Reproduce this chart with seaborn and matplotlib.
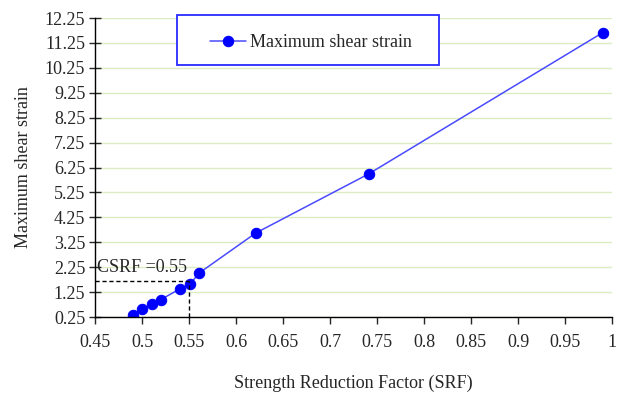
import matplotlib
matplotlib.use("Agg")
import matplotlib.pyplot as plt
from matplotlib.patches import Rectangle
import seaborn as sns
import pandas as pd

srf = [0.49, 0.50, 0.511, 0.52, 0.54, 0.551, 0.561, 0.621, 0.741, 0.99]
strain = [0.35, 0.57, 0.76, 0.95, 1.37, 1.57, 2.02, 3.62, 5.99, 11.66]
yticks = [0.25, 1.25, 2.25, 3.25, 4.25, 5.25, 6.25, 7.25, 8.25, 9.25, 10.25, 11.25, 12.25]
xticks = [0.45, 0.5, 0.55, 0.6, 0.65, 0.7, 0.75, 0.8, 0.85, 0.9, 0.95, 1.0]
xtick_labels = ["0.45", "0.5", "0.55", "0.6", "0.65", "0.7", "0.75", "0.8", "0.85", "0.9", "0.95", "1"]
csrf = 0.55
csrf_strain = 1.68

df = pd.DataFrame({"SRF": srf, "strain": strain})

sns.set_style("white")
plt.rcParams["font.family"] = ["Liberation Serif", "DejaVu Serif"]

fig = plt.figure(figsize=(6.23, 3.94), dpi=100)
ax = fig.add_axes([95 / 623, 1 - 317 / 394, 517 / 623, 299 / 394])

sns.lineplot(data=df, x="SRF", y="strain", ax=ax, color="#0000ff", lw=1.1,
             marker="o", markersize=7.5, markeredgecolor="#0000ff",
             label="Maximum shear strain")
for l in ax.lines:
    l.set_color("#4a4aff")
    l.set_markerfacecolor("#0000ff")
    l.set_markeredgecolor("#0000ff")

ax.plot([0.45, csrf], [csrf_strain, csrf_strain], ls=(0, (3, 2)), color="black", lw=1.0)
ax.plot([csrf, csrf], [0.25, csrf_strain], ls=(0, (3, 2)), color="black", lw=1.0)
ax.text(0.4525, csrf_strain + 0.2, "CSRF =0.55", fontsize=13, va="bottom", ha="left")

ax.set_xlim(0.45, 1.0)
ax.set_ylim(0.25, 12.25)
ax.set_xticks(xticks)
ax.set_xticklabels(xtick_labels)
ax.set_yticks(yticks)
ax.set_yticklabels([f"{v:.2f}" for v in yticks])
ax.yaxis.grid(True, color="#dcedc4", lw=1.0)
ax.xaxis.grid(False)
ax.set_axisbelow(True)
for s in ["top", "right"]:
    ax.spines[s].set_visible(False)
for s in ["left", "bottom"]:
    ax.spines[s].set_color("black")
    ax.spines[s].set_linewidth(1.0)
ax.tick_params(axis="x", direction="out", length=5, width=1, labelsize=13, pad=7, bottom=True)
ax.tick_params(axis="y", direction="inout", length=8, width=1, labelsize=13, pad=3, left=True)
ax.set_xlabel("Strength Reduction Factor (SRF)", fontsize=13, labelpad=17)
ax.set_ylabel("Maximum shear strain", fontsize=13, labelpad=9)

leg = ax.legend(loc="center left", bbox_to_anchor=((210 - 95) / 517, 0.918), fontsize=13,
                frameon=False, borderpad=0, handlelength=2.0,
                borderaxespad=0, handletextpad=0.2)
ax.add_patch(Rectangle(((177 - 95) / 517, (317 - 65) / 299), (439 - 177) / 517, 50 / 299,
                       transform=ax.transAxes, fill=True, facecolor="white",
                       edgecolor="#2a2aff", lw=1.3, clip_on=False, zorder=4))
leg.set_zorder(5)

fig.savefig("out.png", dpi=100)
